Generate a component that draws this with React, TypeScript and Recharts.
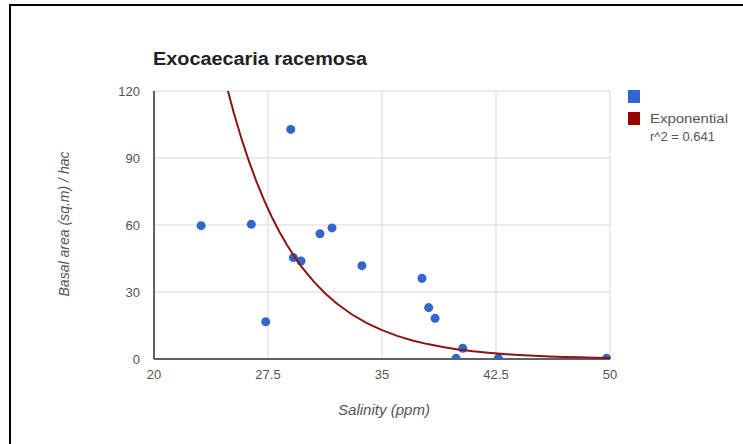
import React from "react";
import { ScatterChart, Scatter, XAxis, YAxis, CartesianGrid } from "recharts";

// salinity (ppm) of each plot
const salinity = [23.1, 26.4, 27.35, 29.0, 29.17, 29.67, 30.92, 31.71, 33.68, 37.63, 38.07, 38.49, 40.31, 39.87, 42.65, 49.78];
// basal area (sq.m) / hac
const basalArea = [59.7, 60.3, 16.7, 102.8, 45.4, 43.9, 56.1, 58.7, 41.8, 36.1, 23.0, 18.2, 4.8, 0.3, 0.3, 0.3];

const xTicks = [20, 27.5, 35, 42.5, 50];
const yTicks = [0, 30, 60, 90, 120];

// exponential trendline y = a * e^(b x), coefficients
const trendA = 28500;
const trendB = -0.22;
const trendX = [24.85, 25.25, 25.75, 26.25, 26.75, 27.25, 27.75, 28.25, 28.75, 29.25, 29.75, 30.5, 31.25, 32, 33, 34, 35, 36, 37, 38, 39, 40, 41, 42, 43, 44, 45, 46, 47, 48, 49, 50];

const points = salinity.map((x, i) => ({ x, y: basalArea[i] }));
const trend = trendX.map((x) => ({ x, y: trendA * Math.exp(trendB * x) }));

const FONT = "Arial, 'Liberation Sans', sans-serif";

const XTick = (props: any) => (
  <text x={props.x} y={props.y + 12} textAnchor="middle" fontSize={13} fill="#555" fontFamily={FONT}>
    {props.payload.value}
  </text>
);

const YTick = (props: any) => (
  <text x={props.x - 6} y={props.y + 5} textAnchor="end" fontSize={13} fill="#555" fontFamily={FONT}>
    {props.payload.value}
  </text>
);

export default function App() {
  return (
    <div style={{ position: "absolute", left: 0, top: 0, width: 743, height: 444, background: "#fff", overflow: "hidden" }}>
      <div style={{ position: "absolute", left: 9, top: 4, right: -10, bottom: -10, borderTop: "2px solid #000", borderLeft: "2px solid #000" }} />
      <ScatterChart width={743} height={444} margin={{ top: 91, right: 133, bottom: 55, left: 104 }}>
        <CartesianGrid stroke="#d8d8d8" ticks={undefined} />
        <XAxis
          type="number"
          dataKey="x"
          domain={[20, 50]}
          ticks={xTicks}
          height={30}
          axisLine={{ stroke: "#333", strokeWidth: 1.5 }}
          tickLine={false}
          tick={<XTick />}
          interval={0}
        />
        <YAxis
          type="number"
          dataKey="y"
          domain={[0, 120]}
          ticks={yTicks}
          width={50}
          allowDataOverflow
          axisLine={{ stroke: "#333", strokeWidth: 1.5 }}
          tickLine={false}
          tick={<YTick />}
          interval={0}
        />
        <Scatter data={points} fill="#3366cc" isAnimationActive={false} />
        <Scatter
          data={trend}
          line={{ stroke: "#8b1414", strokeWidth: 2 }}
          lineType="joint"
          shape={() => <g />}
          isAnimationActive={false}
        />
      </ScatterChart>
      <svg width={743} height={444} style={{ position: "absolute", left: 0, top: 0, pointerEvents: "none" }}>
        <text x={153} y={65} fontSize={18} fontWeight="bold" fill="#222" fontFamily={FONT} textLength={214} lengthAdjust="spacingAndGlyphs">
          Exocaecaria racemosa
        </text>
        <text x={338} y={415} fontSize={14} fontStyle="italic" fill="#555" fontFamily={FONT} textLength={92} lengthAdjust="spacingAndGlyphs">
          Salinity (ppm)
        </text>
        <text
          x={0}
          y={0}
          transform="translate(69,224) rotate(-90)"
          textAnchor="middle"
          fontSize={14}
          fontStyle="italic"
          fill="#555"
          fontFamily={FONT}
          textLength={145}
          lengthAdjust="spacingAndGlyphs"
        >
          Basal area (sq.m) / hac
        </text>
        <rect x={628} y={90} width={12} height={13} fill="#3366cc" />
        <rect x={628} y={112} width={12} height={13} fill="#990000" />
        <text x={650} y={123} fontSize={13} fill="#555" fontFamily={FONT} textLength={78} lengthAdjust="spacingAndGlyphs">
          Exponential
        </text>
        <text x={650} y={141} fontSize={13} fill="#555" fontFamily={FONT}>
          r^2 = 0.641
        </text>
      </svg>
    </div>
  );
}
